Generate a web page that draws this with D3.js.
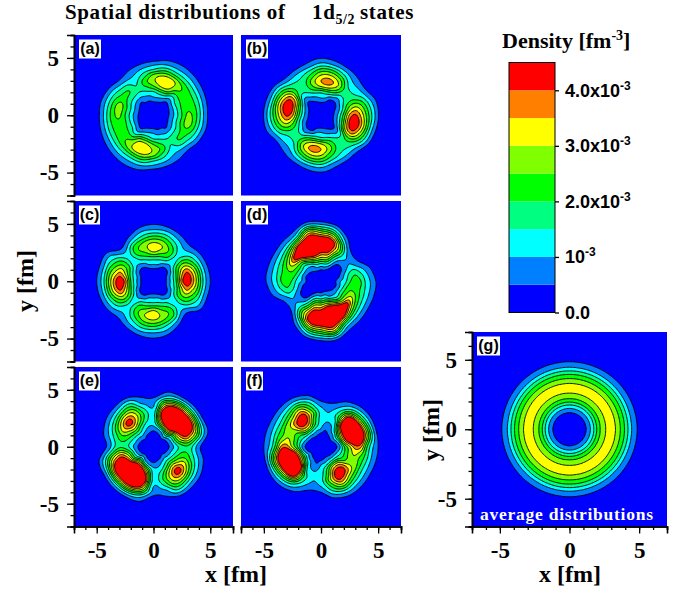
<!DOCTYPE html>
<html><head><meta charset="utf-8">
<script src="https://cdn.jsdelivr.net/npm/d3@7"></script>
<style>html,body{margin:0;padding:0;background:#fff}svg{display:block}</style></head>
<body><svg id="c" width="691" height="594"></svg>
<script>
// Density in 1e-3 fm^-3, along rays from the centre.
// Each row is one ray angle, each column one radius. Patterns are point-symmetric, so angles 0..165 cover the full turn.
const rayAngles=[0,15,30,45,60,75,90,105,120,135,150,165];
const rayRadii=[1,1.5,2,2.5,3,3.5,4,4.5,5,5.5];
const raysA=[
[.2,.65,1.3,2,2.6,2.4,1.7,.85,.25,0],
[.15,.6,1.3,2,2.3,2.2,1.7,.9,.3,0],
[.15,.5,1.3,1.9,2.3,2.2,1.7,.95,.38,.02],
[.2,.4,1,1.8,2.5,2.5,1.8,1.05,.45,.02],
[.25,.7,1.6,2.8,3.2,3,1.9,1.05,.5,.02],
[.3,.9,1.7,2.9,3.3,3.05,2,1.05,.4,0],
[.3,.9,1.4,2.4,2.9,2.6,1.5,.8,.15,0],
[.25,.7,1.3,1.9,2.3,1.8,1.2,.6,.12,0],
[.2,.7,1.1,1.6,1.5,1.25,.85,.45,.07,0],
[.3,.45,1.1,1.7,2,1.6,.85,.3,.02,0],
[.15,.6,1.2,1.8,2.2,1.9,1.3,.6,.1,0],
[.2,.7,1.4,2.1,2.7,2.4,1.6,.85,.25,0]];
const raysB=[
[.35,1.1,2.2,3.6,4.1,3.4,2.4,1.4,.55,0],
[.3,.8,1.6,2.5,2.9,2.6,1.9,1.1,.45,0],
[.2,.5,1.2,1.7,1.8,1.5,1.1,.5,.1,0],
[.1,.35,.9,1.6,1.8,1.4,1,.55,.2,0],
[.2,.45,1.4,2.5,3,2.5,1.6,.8,.2,0],
[.3,.9,1.7,3.1,3.7,3.1,2.1,1,.35,0],
[.35,1,1.6,3,3.5,3,2.1,1.1,.45,0],
[.3,.8,1.5,2.4,2.7,2.2,1.5,.7,.25,0],
[.2,.6,1.2,1.7,1.8,1.6,1.2,.55,.1,0],
[.1,.4,.95,1.6,2,1.8,1.2,.5,.05,0],
[.25,.8,1.9,3.2,3.7,3.1,2.1,1.1,.3,0],
[.35,1.1,2.3,3.9,4.6,3.8,2.6,1.3,.45,0]];
const raysC=[
[.35,1.05,2,3.8,4.4,3.6,2.4,1.2,.5,0],
[.3,1,1.9,3.2,4,3.3,2.2,1.1,.4,0],
[.2,.6,1.5,2.3,2.6,2.2,1.5,.8,.25,0],
[.1,.45,1,1.3,1.4,1.2,.9,.45,.1,0],
[.2,.6,1.4,2.1,2.3,1.9,1.3,.7,.2,0],
[.3,1,1.6,2.5,3,2.6,1.8,1,.35,0],
[.35,1.05,1.7,2.9,3.4,2.8,1.9,1,.45,0],
[.3,1,1.6,2.4,2.8,2.5,1.6,.9,.3,0],
[.2,.6,1.3,1.9,2.3,2,1.1,.4,.05,0],
[.1,.45,1,1.25,1.35,1.05,.5,.1,0,0],
[.2,.6,1.4,2.1,2.3,2,1.4,.9,.3,0],
[.3,1,1.7,2.8,3.5,2.9,2.1,1.1,.4,0]];
const raysD=[
[.15,.8,1.2,1.9,2.3,2,1.3,.8,.3,0],
[.1,.35,.9,1.5,1.8,1.4,.9,.45,.05,0],
[.05,.2,.45,.9,1,.6,.25,.03,0,0],
[.05,.15,.45,.95,1.1,.7,.2,.02,0,0],
[.25,.85,1.4,2,2.7,2.4,1.3,.5,.05,0],
[.5,1.4,2.6,3.7,4.5,4.6,3.2,1.7,.6,0],
[.5,1.4,2.8,4,5.5,5.3,3.7,2.2,.9,.1],
[.6,1.5,3,4.8,6,5.6,4.3,2.9,1.2,.2],
[.5,1,2.4,4.3,5.8,5,2.8,1.2,.4,0],
[.35,.85,1.6,3,4.6,3.3,1.9,.9,.3,0],
[.2,.8,1.7,2.6,3.2,2.4,1.5,.8,.25,0],
[.1,.7,1.5,2.3,2.4,2,1.4,.8,.3,0]];
const raysE=[
[.15,.65,1.3,1.8,1.9,1.4,.65,.2,0,0],
[.2,.8,2,3.1,3.7,3.2,2.3,1.2,.45,.02],
[.3,1.1,2.4,4.2,5.3,5.2,3.7,1.8,.5,.03],
[.5,1.8,3.8,5.5,6.5,6,4,2,.6,.03],
[.35,1.2,3.6,5.5,6.5,6,3.9,1.9,.55,.03],
[.25,.8,2.3,3.7,4.4,3.8,2.6,1.2,.45,.02],
[.2,.6,1.2,1.3,1.3,1,.8,.3,.02,0],
[.25,.7,1.2,1.7,1.9,1.5,.9,.5,.08,0],
[.3,1,1.7,2.7,3.2,2.9,2.1,1.2,.35,0],
[.5,1.2,2.2,3.5,4.3,3.5,2.2,1.1,.35,0],
[.35,1,1.9,2.8,3.3,2.7,1.7,.9,.3,0],
[.2,.85,1.5,2.1,2.2,1.7,1.1,.55,.1,0]];
const raysF=[
[.15,.65,1.9,2.9,3.8,3.6,2.1,1.1,.5,0],
[.2,1,3,4.8,5.8,5.5,3.6,1.9,.55,.03],
[.45,1.5,3.3,5.2,6.5,6,3.4,1.7,.6,.03],
[.4,1.1,2.4,4.3,5,4.5,2.5,1.2,.4,0],
[.25,.8,1.1,1.5,2,1.7,1.1,.55,.1,0],
[.2,.5,.9,1.05,1.05,.85,.45,.1,0,0],
[.25,.9,1.2,1.3,1.3,1,.5,.1,.02,0],
[.4,1.1,2,2.4,2.8,2.2,1.5,.7,.15,0],
[.5,1.4,3,4.1,4.4,3.6,2.4,1.2,.4,0],
[.4,1.4,3,4,4,3,2,1.1,.45,.03],
[.3,1.2,2,2.6,2.9,2.6,1.7,1,.4,0],
[.15,.9,1.8,2.6,3,2.5,1.8,1,.45,0]];
// Panel (g): radial profile
const radiiG=[0,.8,1.2,1.5,1.75,1.95,2.2,2.6,2.95,3.3,3.65,3.95,4.2,4.45,4.85,5.4,7];
const densG =[0,.1,.5,1,1.5,2,2.5,3,3.35,3,2.5,2,1.5,1,.5,0,0];

const levels=[.5,1,1.5,2,2.5,3,3.5,4];
const bandColors=["#0000ff","#0080ff","#00ffff","#00ff80","#00ff00","#80ff00","#ffff00","#ff8000","#ff0000"];
const majorTicks=[-5,0,5];
const barTicks=[0,1,2,3,4];
const barLabels=[["0.0",""],["10","-3"],["2.0x10","-3"],["3.0x10","-3"],["4.0x10","-3"]];

const SERIF="'Liberation Serif',serif", SANS="'Liberation Sans',sans-serif";
const svg=d3.select("#c");
const color=d3.scaleThreshold().domain(levels).range(bandColors);

function cr(a,b,c,d,t){return .5*((2*b)+(-a+c)*t+(2*a-5*b+4*c-d)*t*t+(-a+3*b-3*c+d)*t*t*t);}
const DR=rayRadii[1]-rayRadii[0], DA=rayAngles[1]-rayAngles[0];
function polar(rows){
  // columns: r = 0, .5, then the read radii, then zeros
  const g=rows.map(r=>[0,0,...r,0,0,0].map(Math.sqrt));
  const m=g.length,c=g[0].length;
  return (x,y)=>{
    const r=Math.hypot(x,y); if(r>=6.5) return 0;
    let a=Math.atan2(y,x)*180/Math.PI; a=((a%180)+180)%180;
    const u=a/DA,i=Math.floor(u),tu=u-i, v=r/DR,j=Math.floor(v),tv=v-j;
    const at=(p,q)=>{const k=((p%m)+m)%m; return g[k][Math.max(0,Math.min(c-1,q))];};
    const col=[];
    for(let q=-1;q<=2;q++) col.push(cr(at(i-1,j+q),at(i,j+q),at(i+1,j+q),at(i+2,j+q),tu));
    const w=Math.max(0,cr(col[0],col[1],col[2],col[3],tv));
    return w*w;
  };
}
const STEP=.1,N=141;
function drawField(box,fn){
  const xs=d3.scaleLinear([-7,7],[box.x0,box.x1]), ys=d3.scaleLinear([-7,7],[box.y1,box.y0]);
  const vals=new Array(N*N);
  for(let j=0;j<N;j++)for(let i=0;i<N;i++) vals[j*N+i]=Math.max(0,fn(-7+i*STEP,7-j*STEP));
  const conts=d3.contours().size([N,N]).smooth(true).thresholds(levels)(vals);
  const path=d3.geoPath(d3.geoTransform({point(x,y){
    this.stream.point(xs(-7+(x-.5)*STEP),ys(7-(y-.5)*STEP));}}));
  const g=svg.append("g");
  g.append("rect").attr("x",box.x0).attr("y",box.y0).attr("width",box.x1-box.x0).attr("height",box.y1-box.y0).attr("fill",bandColors[0]);
  g.selectAll("path").data(conts).join("path").attr("d",path)
    .attr("fill",d=>color(d.value)).attr("stroke","#000").attr("stroke-width",.9).attr("stroke-linejoin","round");
  return {xs,ys};
}
function styleAxis(sel,size){
  sel.selectAll(".domain").attr("stroke","#000").attr("stroke-width",1.6);
  sel.selectAll("line").attr("stroke","#000").attr("stroke-width",1.3);
  sel.selectAll("text").attr("font-family",SERIF).attr("font-weight","bold").attr("font-size",size).attr("fill","#000");
}
const fmt=d=>String(d);
function axes(sc,box,left,bottom,size){
  const minor=d3.range(-7,8);
  if(left){
    const a=svg.append("g").attr("transform",`translate(${box.x0},0)`);
    a.call(d3.axisLeft(sc.ys).tickValues(minor).tickSize(3.5).tickFormat("")); styleAxis(a,size);
    const b=svg.append("g").attr("transform",`translate(${box.x0},0)`);
    b.call(d3.axisLeft(sc.ys).tickValues(majorTicks).tickSize(7).tickPadding(8).tickFormat(fmt)); styleAxis(b,size);
  }
  if(bottom){
    const a=svg.append("g").attr("transform",`translate(0,${box.y1})`);
    a.call(d3.axisBottom(sc.xs).tickValues(minor).tickSize(3.5).tickFormat("")); styleAxis(a,size);
    const b=svg.append("g").attr("transform",`translate(0,${box.y1})`);
    b.call(d3.axisBottom(sc.xs).tickValues(majorTicks).tickSize(7).tickPadding(8).tickFormat(fmt)); styleAxis(b,size);
  }
}
function tag(box,label,w){
  svg.append("rect").attr("x",box.x0+5).attr("y",box.y0+4.5).attr("width",w).attr("height",19).attr("fill","#fff");
  svg.append("text").attr("x",box.x0+5+w/2).attr("y",box.y0+19).attr("text-anchor","middle")
    .attr("font-family",SANS).attr("font-weight","bold").attr("font-size",16).text(label);
}
const X=[{x0:74,x1:233},{x0:241,x1:401}], Y=[{y0:35,y1:195.5},{y0:201,y1:361.5},{y0:367,y1:526.5}];
const panels=[
 {g:raysA,c:0,r:0,l:"(a)",w:22},{g:raysB,c:1,r:0,l:"(b)",w:22},
 {g:raysC,c:0,r:1,l:"(c)",w:21},{g:raysD,c:1,r:1,l:"(d)",w:22},
 {g:raysE,c:0,r:2,l:"(e)",w:21},{g:raysF,c:1,r:2,l:"(f)",w:17}];
panels.forEach(p=>{
  const box={...X[p.c],...Y[p.r]};
  const sc=drawField(box,polar(p.g));
  axes(sc,box,p.c===0,p.r===2,23);
  tag(box,p.l,p.w);
});
// (g)
const boxG={x0:472,x1:667,y0:332,y1:526.5};
const prof=d3.scaleLinear(radiiG,densG);
const scG=drawField(boxG,(x,y)=>prof(Math.hypot(x,y)));
axes(scG,boxG,true,true,23);
tag(boxG,"(g)",23);
svg.append("text").attr("x",480).attr("y",519.5).attr("fill","#fff").attr("font-family",SERIF).attr("font-weight","bold")
  .attr("font-size",17.5).attr("letter-spacing",.75).text("average distributions");

function bold(x,y,size,txt,anchor,rot){
  const t=svg.append("text").attr("font-family",SERIF).attr("font-weight","bold").attr("font-size",size)
    .attr("text-anchor",anchor||"start").text(txt);
  if(rot) t.attr("transform",`translate(${x},${y}) rotate(${rot})`); else t.attr("x",x).attr("y",y);
  return t;
}
bold(236,582,24,"x [fm]","middle");
bold(570,582,24,"x [fm]","middle");
bold(33,281,24,"y [fm]","middle",-90);
bold(439,430,24,"y [fm]","middle",-90);

// Title
const title=bold(65,18.5,21,"").attr("letter-spacing",.63);
title.append("tspan").text("Spatial distributions of");
title.append("tspan").attr("x",312).text("1d");
title.append("tspan").text("5/2").attr("font-size",14).attr("dy",5);
title.append("tspan").attr("x",360).text("states").attr("dy",-5);

// Colour bar
const barX=509,barW=46;
const barY=d3.scaleLinear([0,4.5],[312.5,62.5]);
svg.append("g").selectAll("rect").data(bandColors).join("rect")
  .attr("x",barX).attr("width",barW)
  .attr("y",(d,i)=>barY((i+1)*.5)).attr("height",(d,i)=>barY(i*.5)-barY((i+1)*.5)).attr("fill",d=>d);
svg.append("rect").attr("x",barX).attr("y",barY(4.5)).attr("width",barW).attr("height",barY(0)-barY(4.5))
  .attr("fill","none").attr("stroke","#000").attr("stroke-width",1);
const barAxis=svg.append("g").attr("transform",`translate(${barX+barW},0)`)
  .call(d3.axisRight(barY).tickValues(barTicks).tickSize(4).tickFormat(""));
barAxis.select(".domain").remove();
barAxis.selectAll("line").attr("stroke","#000").attr("stroke-width",1.3);
barTicks.forEach((v,i)=>{
  const t=svg.append("text").attr("x",565).attr("y",barY(v)+6.5).attr("font-family",SANS).attr("font-weight","bold").attr("font-size",18);
  t.append("tspan").text(barLabels[i][0]);
  if(barLabels[i][1]) t.append("tspan").text(barLabels[i][1]).attr("font-size",12).attr("dy",-7);
});
const dens=bold(502,48,22,"");
dens.append("tspan").text("Density [fm");
dens.append("tspan").text("-3").attr("font-size",14).attr("dy",-8);
dens.append("tspan").text("]").attr("dy",8);
</script></body></html>
